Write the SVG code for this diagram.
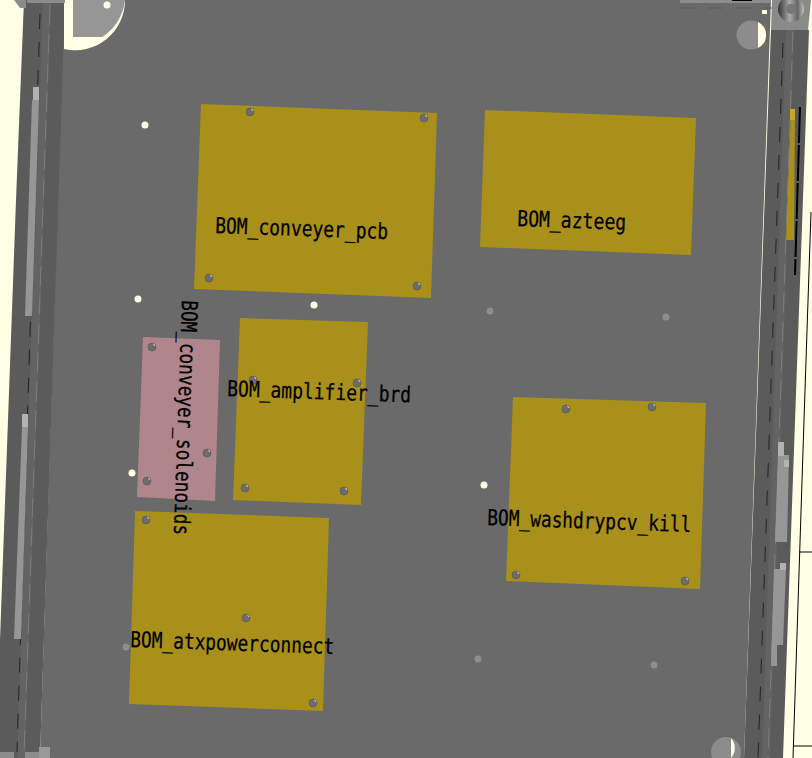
<svg xmlns="http://www.w3.org/2000/svg" width="812" height="758" viewBox="0 0 812 758">
<style>
.pcb{fill:#a8901a}
.pink{fill:#b0858c}
.wall{fill:#5b5b5b}
.mid{fill:#636363}
.lt{fill:#969696}
.ltr{fill:#b2b2b2}
.dash{stroke:#222;stroke-width:1;stroke-dasharray:15 13;fill:none}
.tick{stroke:#7e7e7e;stroke-width:1;stroke-dasharray:20 9;fill:none}
.blk{stroke:#000;stroke-width:1;fill:none}
.dot{fill:#fffee8}
.hole{fill:#8c8c8c}
.scr{fill:#6c6c6c;stroke:#555;stroke-width:.6}
.hi{fill:#eee}
text{font-family:"DejaVu Sans Mono","Liberation Mono",monospace;font-size:22px;fill:#000;stroke:#000;stroke-width:.25;text-rendering:optimizeSpeed}
</style>
<defs>
<linearGradient id="cone" x1="0" x2="1" y1="0" y2="0"><stop offset="0" stop-color="#333"/><stop offset=".45" stop-color="#aaa"/><stop offset=".75" stop-color="#666"/><stop offset="1" stop-color="#c0c0c0"/></linearGradient>
<g id="s"><circle r="4" class="scr"/><path d="M1 -3.5A4 4 0 0 1 3.5 -1L2 -1.5Z" class="hi"/></g>
</defs>
<rect width="812" height="758" fill="#ffffe6"/>
<path d="M64 0H771L744 758H40Z" fill="#6a6a6a"/>
<g id="frame-left">
<path class="wall" d="M24 0H65L40 758H0V640L16 200Z"/>
<path class="mid" d="M43 0H51L25 758H17Z"/>
<path class="dash" d="M40 14L17 752"/>
<path class="tick" d="M50 5L24 755"/>
<path class="lt" d="M32 100H39L32 316H25Z"/>
<rect class="ltr" x="33" y="87" width="6" height="13"/>
<path class="lt" d="M22 427H28L21 639H14Z"/>
<rect class="ltr" x="22" y="414" width="6" height="13"/>
</g>
<g id="frame-right">
<path class="wall" d="M771 30H809L783 758H744Z"/>
<path class="mid" d="M786 30H794L770 758H762Z"/>
<path class="dash" d="M783 43L758 758"/>
<path class="tick" d="M793 32L768 758"/>
<path class="lt" d="M778 455H789L787 542H775Z"/>
<rect class="ltr" x="778" y="442" width="6" height="14"/>
<rect class="ltr" x="784" y="460" width="5" height="7"/>
<path class="lt" d="M774 569H786L783 645H777L777 666H771Z"/>
<rect class="ltr" x="780" y="563" width="6" height="7"/>
<path d="M791 109H795L794 240H786Z" fill="#a8901a"/>
<rect x="790" y="109" width="5" height="11" fill="#c8a820"/>
<path d="M800 107L795 275" stroke="#000" stroke-width="2" stroke-dasharray="36 2"/>
<path class="blk" d="M811 212L804 420L793 758M799 552H812M794 746H812"/>
</g>
<g id="corners">
<path d="M64 0H125A50 50 0 0 1 64 49Z" fill="#ffffe6"/>
<path class="lt" d="M73 0H125A50 50 0 0 1 102 37L73 37Z"/>
<path d="M27 0H65V3H27Z" fill="#8c8c8c"/>
<path d="M14 0H26V8L20 8Z" fill="#8c8c8c"/>
<circle cx="107" cy="5" r="3.5" class="dot"/>
<rect x="680" y="0" width="91" height="3" fill="#8c8c8c"/>
<rect x="732" y="0" width="20" height="1" fill="#000"/>
<path d="M680 8H772" stroke="#5a5a5a" stroke-dasharray="15 13"/>
<circle cx="751" cy="35" r="14.5" class="hole"/>
<path d="M758 22A14.5 14.5 0 0 1 758 48Z" fill="#ffffe6"/>
<rect x="762" y="10" width="5" height="4" fill="#ffffe6"/>
<path d="M772 0H811L808 30H771Z" fill="#8a8a8a"/>
<circle cx="791" cy="9" r="13" fill="url(#cone)"/>
<circle cx="791" cy="9" r="5" fill="#777"/>
<circle cx="726" cy="752" r="15" class="hole"/>
<path d="M731 738A15 15 0 0 1 731 758Z" fill="#ffffe6"/>
<path d="M0 752H14V758H0ZM25 752H39V758H25Z" fill="#8c8c8c"/>
<rect x="39" y="747" width="11" height="11" fill="#999"/>
</g>
<g id="BOM_conveyer_solenoids"><polygon class="pink" points="143,337 220,340 215,501 137,497"/></g>
<g id="BOM_conveyer_pcb"><polygon class="pcb" points="201,104 437,113 431,298 194,289"/></g>
<g id="BOM_azteeg"><polygon class="pcb" points="485,110 696,118 691,255 480,247"/></g>
<g id="BOM_amplifier_brd"><polygon class="pcb" points="240,318 368,322 361,505 233,500"/></g>
<g id="BOM_washdrypcv_kill"><polygon class="pcb" points="513,397 706,403 700,589 506,581"/></g>
<g id="BOM_atxpowerconnect"><polygon class="pcb" points="135,511 329,518 323,711 129,704"/></g>
<g id="dots">
<circle cx="145" cy="125" r="3.5" class="dot"/><circle cx="138" cy="299" r="3.5" class="dot"/><circle cx="314" cy="305" r="3.5" class="dot"/><circle cx="132" cy="473" r="3.5" class="dot"/><circle cx="484" cy="485" r="3.5" class="dot"/>
<g fill="#8e8e8e"><circle cx="490" cy="311" r="3.5"/><circle cx="666" cy="317" r="3.5"/><circle cx="126" cy="647" r="3.5"/><circle cx="478" cy="659" r="3.5"/><circle cx="654" cy="665" r="3.5"/></g>
</g>
<g id="screws">
<use href="#s" x="250" y="112"/><use href="#s" x="424" y="118"/><use href="#s" x="209" y="278"/><use href="#s" x="417" y="286"/>
<use href="#s" x="253" y="380"/><use href="#s" x="357" y="383"/><use href="#s" x="245" y="488"/><use href="#s" x="344" y="491"/>
<use href="#s" x="152" y="347"/><use href="#s" x="207" y="453"/><use href="#s" x="147" y="481"/>
<use href="#s" x="146" y="520"/><use href="#s" x="246" y="618"/><use href="#s" x="313" y="703"/>
<use href="#s" x="566" y="409"/><use href="#s" x="652" y="407"/><use href="#s" x="516" y="575"/><use href="#s" x="685" y="581"/>
</g>
<g id="labels">
<text transform="translate(215 233) rotate(2)" textLength="173" lengthAdjust="spacingAndGlyphs">BOM_conveyer_pcb</text>
<text transform="translate(517 226) rotate(2)" textLength="109" lengthAdjust="spacingAndGlyphs">BOM_azteeg</text>
<text transform="translate(227 396) rotate(2)" textLength="184" lengthAdjust="spacingAndGlyphs">BOM_amplifier_brd</text>
<text transform="translate(487 525) rotate(2)" textLength="204" lengthAdjust="spacingAndGlyphs">BOM_washdrypcv_kill</text>
<text transform="translate(130 647) rotate(2)" textLength="204" lengthAdjust="spacingAndGlyphs">BOM_atxpowerconnect</text>
<text transform="translate(182 300) rotate(92)" textLength="235" lengthAdjust="spacingAndGlyphs">BOM_conveyer_solenoids</text>
</g>
</svg>
